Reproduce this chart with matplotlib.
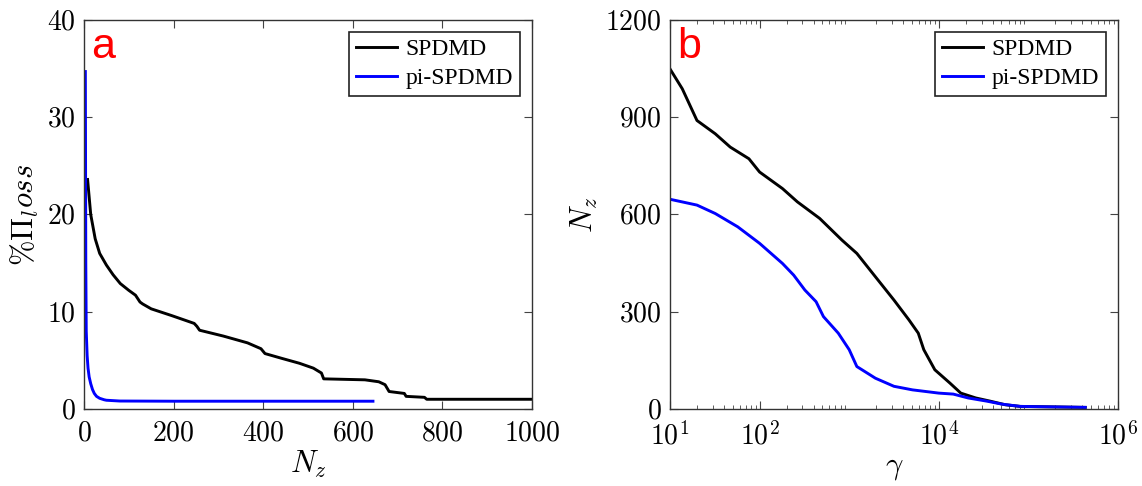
import numpy as np
import matplotlib
matplotlib.use('Agg')
from matplotlib import pyplot as plt

plt.rcParams['font.family'] = 'Liberation Serif'
plt.rcParams['mathtext.fontset'] = 'cm'

# panel a: percentage loss vs number of non-zero modes
a_spdmd_x = [8, 15, 25, 35, 50, 65, 81, 100, 115, 125, 131, 150, 196, 246, 252, 258,
             311, 365, 395, 404, 442, 481, 512, 530, 535, 627, 658, 672, 681,
             715, 719, 760, 765, 800, 1000]
a_spdmd_y = [23.6, 20.0, 17.5, 16.0, 14.8, 13.8, 12.9, 12.2, 11.7, 11.0, 10.8, 10.3, 9.6, 8.8,
             8.5, 8.1, 7.5, 6.8, 6.2, 5.7, 5.2, 4.7, 4.2, 3.7, 3.1, 3.0, 2.8, 2.5, 1.8,
             1.6, 1.3, 1.2, 1.0, 1.0, 1.0]
a_pi_x = [3, 4, 5, 7, 9, 11.5, 15, 19, 23, 28, 35, 45, 50, 80, 200, 645]
a_pi_y = [34.7, 15.0, 8.0, 5.5, 4.2, 3.3, 2.6, 2.0, 1.6, 1.3, 1.1, 0.95, 0.9, 0.82, 0.8, 0.8]

# panel b: number of non-zero modes vs gamma
b_spdmd_g = [10, 13.7, 20, 32, 47, 76, 100, 180, 264, 468, 830, 1217, 1960, 3160,
             4640, 5900, 6800, 9030, 13300, 17600, 25900, 37700, 55400, 81000, 431000]
b_spdmd_n = [1049, 988, 890, 849, 808, 772, 731, 680, 639, 588, 521, 480, 408, 336,
             275, 234, 183, 121, 80, 49, 34, 24, 13, 8, 5]
b_pi_g = [10, 20, 32, 57, 100, 180, 240, 320, 427, 516, 755, 1000, 1217, 1960, 3160,
          5090, 10000, 14500, 21300, 34700, 50600, 81000, 431000]
b_pi_n = [647, 629, 603, 562, 511, 449, 413, 367, 331, 285, 234, 183, 131, 95, 70,
          59, 49, 46, 34, 24, 15, 8, 5]

a_xticks = [0, 200, 400, 600, 800, 1000]
a_yticks = [0, 10, 20, 30, 40]
b_xticks = [10, 100, 1e4, 1e6]
b_xlabels = ['1', '2', '4', '6']
b_yticks = [0, 300, 600, 900, 1200]

W, H = 1142, 486
fig = plt.figure(figsize=(W / 100, H / 100), dpi=100)
ax1 = fig.add_axes([84 / W, 1 - 409 / H, 448 / W, 389 / H])
ax2 = fig.add_axes([670 / W, 1 - 409 / H, 448 / W, 389 / H])

lw = 2.1
ax1.plot(a_spdmd_x, a_spdmd_y, color='k', lw=lw, label='SPDMD')
ax1.plot(a_pi_x, a_pi_y, color='#0000ff', lw=lw, label='pi-SPDMD')
ax1.set_xlim(0, 1000)
ax1.set_ylim(0, 40)
ax1.set_xticks(a_xticks)
ax1.set_xticklabels(['$%d$' % t for t in a_xticks])
ax1.set_yticks(a_yticks)
ax1.set_yticklabels(['$%d$' % t for t in a_yticks])
ax1.set_xlabel(r'$N_z$', fontsize=22, labelpad=2)
ax1.set_ylabel(r'$\%\Pi_loss$', fontsize=22, labelpad=4)

ax2.plot(b_spdmd_g, b_spdmd_n, color='k', lw=lw, label='SPDMD')
ax2.plot(b_pi_g, b_pi_n, color='#0000ff', lw=lw, label='pi-SPDMD')
ax2.set_xscale('log')
ax2.set_xlim(10, 1e6)
ax2.set_ylim(0, 1200)
ax2.set_xticks(b_xticks)
ax2.set_xticklabels([r'$10^{%s}$' % s for s in b_xlabels])
ax2.set_yticks(b_yticks)
ax2.set_yticklabels(['$%d$' % t for t in b_yticks])
ax2.set_xlabel(r'$\gamma$', fontsize=22, labelpad=2)
ax2.set_ylabel(r'$N_z$', fontsize=22, labelpad=4)

for ax, letter in [(ax1, 'a'), (ax2, 'b')]:
    ax.tick_params(which='both', direction='in', top=True, right=True,
                   labelsize=20, color='#444444')
    ax.tick_params(which='major', length=6)
    ax.tick_params(which='minor', length=3)
    ax.tick_params(axis='x', which='both', pad=9)
    ax.tick_params(axis='y', which='both', pad=6)
    for s in ax.spines.values():
        s.set_color('#333333')
        s.set_linewidth(1.0)
    ax.text(0.016, 0.982, letter, transform=ax.transAxes, color='red',
            fontsize=31, family='Liberation Sans', ha='left', va='top')
    leg = ax.legend(loc='upper right', fontsize=17, fancybox=False,
                    handlelength=1.75, handletextpad=0.35, borderpad=0.3,
                    labelspacing=0.3, borderaxespad=0.5)
    leg.get_frame().set_edgecolor('#222222')
    leg.get_frame().set_linewidth(1.2)
    leg.get_frame().set_alpha(1)

fig.savefig('out.png', dpi=100)
